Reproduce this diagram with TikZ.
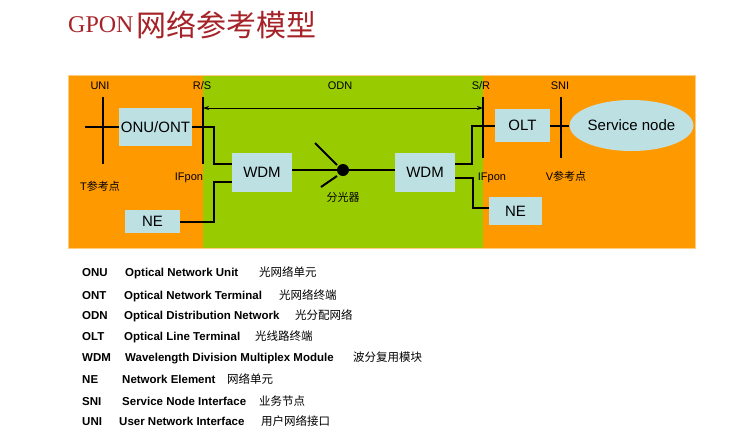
\documentclass[tikz,border=0pt]{standalone}
\usepackage{fontspec}
\setmainfont{Liberation Sans}
\newfontfamily\cjk{Noto Sans CJK SC}
\newfontfamily\titleserif{Liberation Serif}
\usetikzlibrary{shapes.geometric,arrows.meta}

\begin{document}
\begin{tikzpicture}[>=Stealth, x=1pt, y=-1pt,
    box/.style={fill=gponbox, inner sep=0pt, font=\fontsize{15}{15}\selectfont},
    tag/.style={inner sep=0pt, text height=8pt, text depth=2pt, font=\fontsize{11}{11}\selectfont},
    link/.style={line width=2pt},
    refline/.style={line width=1.4pt},
    legend/.style={anchor=west, inner sep=0pt, text height=8.5pt, text depth=2.5pt, font=\bfseries\fontsize{11.5}{11.5}\selectfont}]

        % Define colors of the slide
        \definecolor{gponorange}{RGB}{255, 153, 0}
        \definecolor{gpongreen}{RGB}{153, 204, 0}
        \definecolor{gponbox}{RGB}{189, 224, 227}
        \definecolor{gponred}{RGB}{165, 35, 40}

        \useasboundingbox (0,0) rectangle (745,445);

        % Title
        \node[anchor=base west, inner sep=0pt, text=gponred] (title) at (68,36)
            {\raisebox{3.5pt}{\titleserif\fontsize{24}{24}\selectfont GPON}\hspace{3pt}{\cjk\fontsize{30}{30}\selectfont 网络参考模型}};

        % Customer side, ODN and operator side
        \fill[gponorange] (68,75) rectangle (695,248);
        \fill[gpongreen] (203,75) rectangle (483,248);
        \draw[gponorange!50!white, line width=0.6pt] (68,75) rectangle (695,248);

        % Reference points
        \node[tag] (uni) at (100,86) {UNI};
        \node[tag] (rs) at (202,86) {R/S};
        \node[tag] (odn) at (340,86) {ODN};
        \node[tag] (sr) at (481,86) {S/R};
        \node[tag] (sni) at (560,86) {SNI};

        \draw[refline] (103,97) coordinate (uniTop) -- (103,164) coordinate (uniBot);
        \draw[refline] (203,97) coordinate (rsTop) -- (203,164) coordinate (rsBot);
        \draw[refline] (483,97) coordinate (srTop) -- (483,158) coordinate (srBot);
        \draw[refline] (561,97) coordinate (sniTop) -- (561,158) coordinate (sniBot);

        % ODN span
        \coordinate (odnL) at (203,108);
        \coordinate (odnR) at (483,108);
        \draw[{Stealth[length=6pt,width=4pt]}-{Stealth[length=6pt,width=4pt]}, line width=0.9pt] (odnL) -- (odnR);

        % Equipment
        \node[box, minimum width=73pt, minimum height=38pt] (onu) at (155.5,127) {ONU/ONT};
        \node[box, minimum width=60pt, minimum height=39pt] (wdmL) at (262,172.5) {WDM};
        \node[box, minimum width=55pt, minimum height=23pt] (neL) at (152.5,221.5) {NE};
        \node[box, minimum width=60pt, minimum height=39pt] (wdmR) at (425,172.5) {WDM};
        \node[box, minimum width=55pt, minimum height=33pt] (olt) at (522.5,125.5) {OLT};
        \node[box, minimum width=53pt, minimum height=28pt] (neR) at (515.5,211) {NE};
        \node[box, ellipse, minimum width=117pt, minimum height=51pt] (svc) at (631.5,125.5) {Service node};
        \node[circle, fill=black, inner sep=0pt, minimum size=12pt] (split) at (343,170) {};

        % Fibre links
        \coordinate (uniIn) at (85,127);
        \draw[link] (uniIn) -- (onu.west);
        \draw[link] (onu.east) -- ++(22,0) |- ([yshift=8.5pt]wdmL.west);
        \draw[link] (neL.east) -- ++(34,0) |- ([yshift=-9.5pt]wdmL.west);
        \draw[link] ([yshift=2.5pt]wdmL.east) -- (split);
        \draw[link] (split) -- ([yshift=2.5pt]wdmR.west);
        \draw[link] (split) ++(-28,-27) -- ++(22,22);
        \draw[link] (split) ++(-22,17) -- ++(16,-11);
        \draw[link] ([yshift=8.5pt]wdmR.east) -- ++(17,0) |- (olt.west);
        \draw[link] ([yshift=-5.5pt]wdmR.east) -- ++(18,0) |- ([yshift=3pt]neR.west);
        \draw[link] (olt.east) -- (svc.west);

        % Lower labels
        \node[tag] (ifponL) at (189,177) {IFpon};
        \node[tag] (tref) at (100,187) {T{\cjk 参考点}};
        \node[tag] (splitLbl) at (343,198) {\cjk 分光器};
        \node[tag] (ifponR) at (492,177) {IFpon};
        \node[tag] (vref) at (566,177) {V{\cjk 参考点}};

        % Legend
        \foreach \y/\abbr/\nx/\full/\cx/\zh [count=\i] in {
            273/ONU/125/Optical Network Unit/259/光网络单元,
            296/ONT/124/Optical Network Terminal/279/光网络终端,
            316/ODN/124/Optical Distribution Network/295/光分配网络,
            337/OLT/124/Optical Line Terminal/255/光线路终端,
            358/WDM/125/Wavelength Division Multiplex Module/353/波分复用模块,
            380/NE/122/Network Element/227/网络单元,
            402/SNI/122/Service Node Interface/259/业务节点,
            422/UNI/119/User Network Interface/261/用户网络接口} {
            \node[legend] (ab\i) at (82,\y) {\abbr};
            \node[legend] (full\i) at (\nx,\y) {\full};
            \node[legend, font=\cjk\fontsize{11.5}{11.5}\selectfont] (zh\i) at (\cx,\y) {\zh};
        }

    \end{tikzpicture}
\end{document}
